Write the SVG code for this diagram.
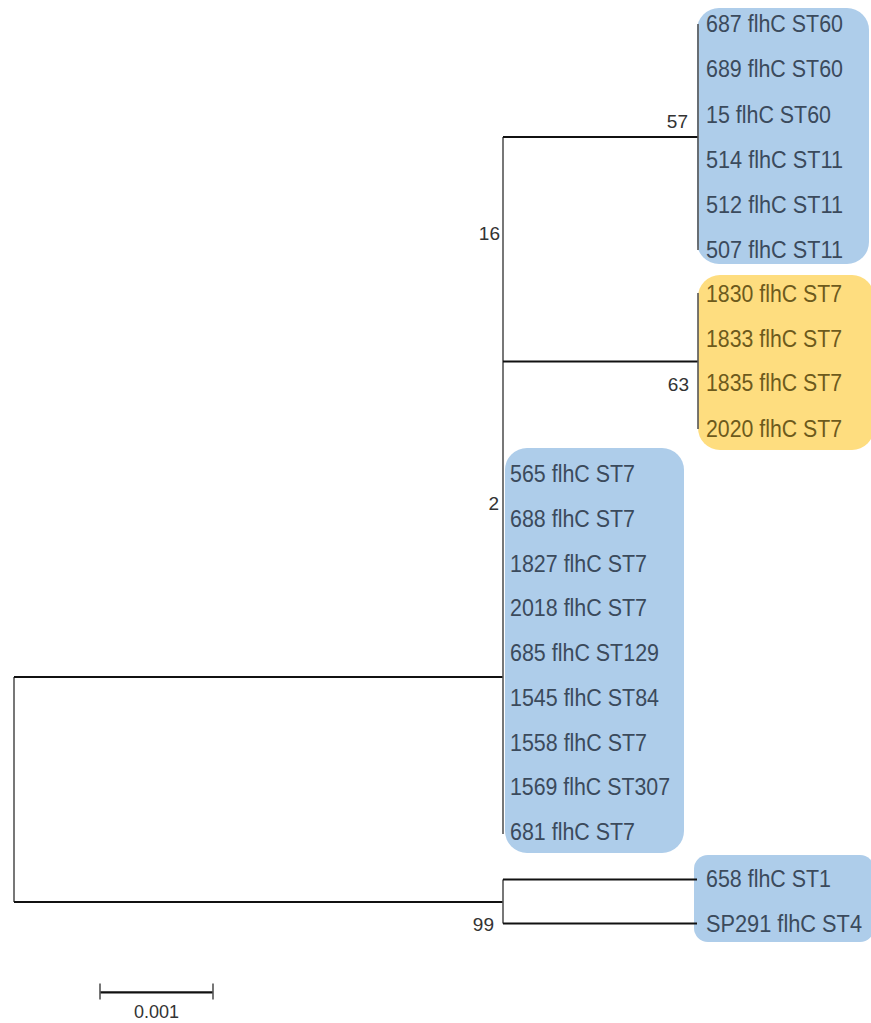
<svg xmlns="http://www.w3.org/2000/svg" width="871" height="1023" viewBox="0 0 871 1023">
<style>
.bg{fill:#fff}
.hb{fill:#aecdea}
.hy{fill:#fedd7f}
.lf{font-family:"Liberation Sans",Arial,sans-serif;font-size:23px;fill:#3b4a5c}
.ly{font-family:"Liberation Sans",Arial,sans-serif;font-size:23px;fill:#6d5a1c}
.bs{font-family:"Liberation Sans",Arial,sans-serif;font-size:19px;fill:#333;text-anchor:end}
.h{stroke:#111;stroke-width:2.2;fill:none}
.v{stroke:#555;stroke-width:1.6;fill:none}
.sc{font-family:"Liberation Sans",Arial,sans-serif;font-size:18px;fill:#333;text-anchor:middle}
</style>
<rect class="bg" x="0" y="0" width="871" height="1023"/>
<g id="highlights">
<rect class="hb" x="697" y="8" width="172" height="256" rx="22"/>
<rect class="hy" x="698" y="275" width="176" height="175" rx="22"/>
<rect class="hb" x="505" y="448" width="179" height="405" rx="22"/>
<rect class="hb" x="694" y="855" width="180" height="87" rx="14"/>
</g>
<g id="connectors">
<path class="v" d="M14,677V902"/>
<path class="h" d="M14,677H503"/>
<path class="h" d="M14,902H503"/>
<path class="v" d="M503,137V834"/>
<path class="h" d="M503,137H698"/>
<path class="h" d="M503,361.5H698"/>
<path class="v" d="M698,24V250"/>
<path class="v" d="M698,293V429"/>
<path class="v" d="M503,879.5V923.5"/>
<path class="h" d="M503,879.5H697"/>
<path class="h" d="M503,923.5H697"/>
</g>
<g id="bootstrap">
<text class="bs" x="688" y="128">57</text>
<text class="bs" x="500" y="240">16</text>
<text class="bs" x="689" y="390.5">63</text>
<text class="bs" x="499" y="510">2</text>
<text class="bs" x="494" y="930.5">99</text>
</g>
<g id="clade57">
<text class="lf" x="706" y="32.2" textLength="137" lengthAdjust="spacingAndGlyphs">687 flhC ST60</text>
<text class="lf" x="706" y="77.4" textLength="137" lengthAdjust="spacingAndGlyphs">689 flhC ST60</text>
<text class="lf" x="706" y="122.6" textLength="125" lengthAdjust="spacingAndGlyphs">15 flhC ST60</text>
<text class="lf" x="706" y="167.8" textLength="137" lengthAdjust="spacingAndGlyphs">514 flhC ST11</text>
<text class="lf" x="706" y="213" textLength="137" lengthAdjust="spacingAndGlyphs">512 flhC ST11</text>
<text class="lf" x="706" y="258.2" textLength="137" lengthAdjust="spacingAndGlyphs">507 flhC ST11</text>
</g>
<g id="clade63">
<text class="ly" x="706" y="301.7" textLength="136" lengthAdjust="spacingAndGlyphs">1830 flhC ST7</text>
<text class="ly" x="706" y="346.7" textLength="136" lengthAdjust="spacingAndGlyphs">1833 flhC ST7</text>
<text class="ly" x="706" y="391.2" textLength="136" lengthAdjust="spacingAndGlyphs">1835 flhC ST7</text>
<text class="ly" x="706" y="436.7" textLength="136" lengthAdjust="spacingAndGlyphs">2020 flhC ST7</text>
</g>
<g id="clade2">
<text class="lf" x="510" y="482.3" textLength="125" lengthAdjust="spacingAndGlyphs">565 flhC ST7</text>
<text class="lf" x="510" y="527" textLength="125" lengthAdjust="spacingAndGlyphs">688 flhC ST7</text>
<text class="lf" x="510" y="571.7" textLength="137" lengthAdjust="spacingAndGlyphs">1827 flhC ST7</text>
<text class="lf" x="510" y="616.4" textLength="137" lengthAdjust="spacingAndGlyphs">2018 flhC ST7</text>
<text class="lf" x="510" y="661.1" textLength="149" lengthAdjust="spacingAndGlyphs">685 flhC ST129</text>
<text class="lf" x="510" y="705.8" textLength="149" lengthAdjust="spacingAndGlyphs">1545 flhC ST84</text>
<text class="lf" x="510" y="750.5" textLength="137" lengthAdjust="spacingAndGlyphs">1558 flhC ST7</text>
<text class="lf" x="510" y="795.2" textLength="160" lengthAdjust="spacingAndGlyphs">1569 flhC ST307</text>
<text class="lf" x="510" y="840" textLength="125" lengthAdjust="spacingAndGlyphs">681 flhC ST7</text>
</g>
<g id="clade99">
<text class="lf" x="706" y="887" textLength="125" lengthAdjust="spacingAndGlyphs">658 flhC ST1</text>
<text class="lf" x="706" y="931.7" textLength="156" lengthAdjust="spacingAndGlyphs">SP291 flhC ST4</text>
</g>
<g id="scalebar">
<path class="h" d="M100,992.3H213"/>
<path class="v" d="M100,983.5V999.5M213,983.5V999.5"/>
<text class="sc" x="156.5" y="1018">0.001</text>
</g>
</svg>
